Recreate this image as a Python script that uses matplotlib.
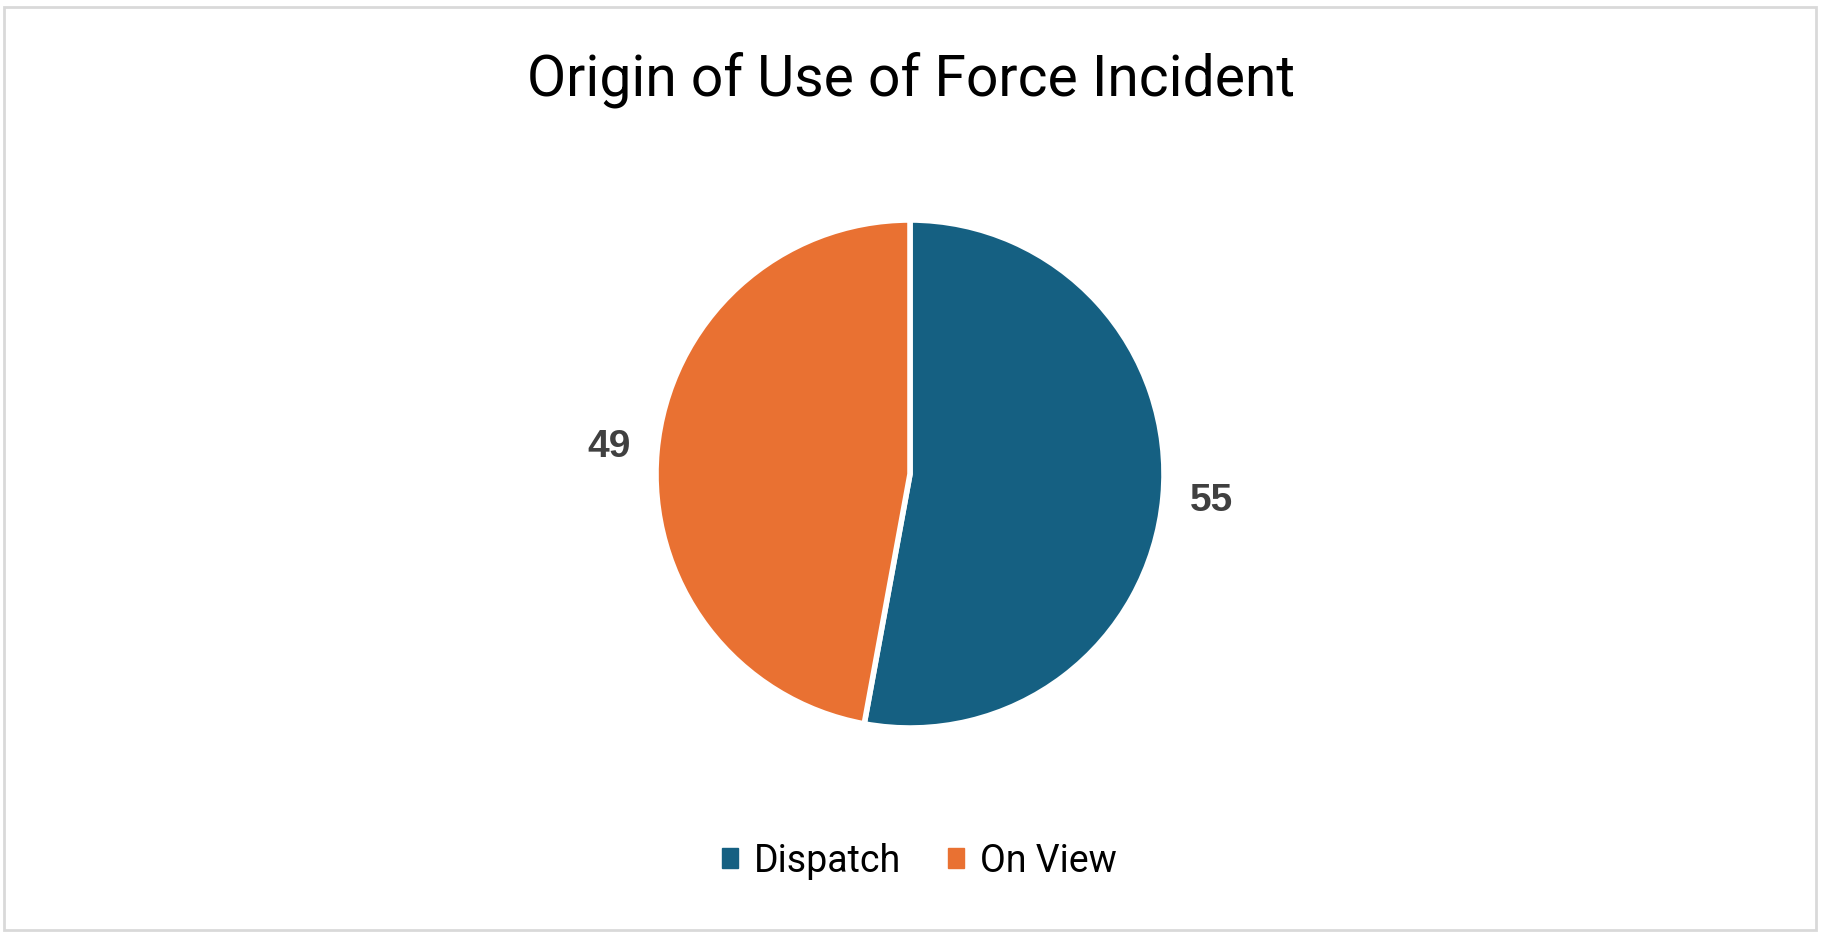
import matplotlib
matplotlib.use("Agg")
import matplotlib.pyplot as plt
from matplotlib.patches import Rectangle, Patch

# ---- data ----
categories = ["Dispatch", "On View"]
values = [55, 49]
colors = ["#156082", "#E97132"]
title = "Origin of Use of Force Incident"

W, H, DPI = 1824, 935, 100
fig = plt.figure(figsize=(W / DPI, H / DPI), dpi=DPI)
fig.patch.set_facecolor("white")

# outer border
fig.patches.append(Rectangle((4 / W, 5 / H), (1816 - 4) / W, (928 - 5) / H,
                             transform=fig.transFigure, fill=False,
                             edgecolor="#D9D9D9", linewidth=2.0, zorder=0))

# pie axes: center (910, 474) px, radius ~254 px
cx, cy, r = 910, 474, 254
ax = fig.add_axes([(cx - r) / W, (H - cy - r) / H, 2 * r / W, 2 * r / H])
total = sum(values)
wedges, _, autotexts = ax.pie(
    values, colors=colors, startangle=90, counterclock=False, radius=1.0,
    wedgeprops=dict(edgecolor="white", linewidth=4),
    autopct=lambda p: f"{round(p * total / 100)}", pctdistance=1.19,
    textprops=dict(fontsize=28, fontweight="bold", color="#404040",
                   family=["Liberation Sans", "DejaVu Sans"]))
ax.set_xlim(-1, 1)
ax.set_ylim(-1, 1)
ax.set_aspect("equal")
ax.axis("off")

# title
fig.text(911 / W, 1 - 95 / H, title, ha="center", va="baseline",
         fontsize=41, family=["Roboto", "DejaVu Sans"], color="black")

# legend
handles = [Patch(facecolor=c, edgecolor=c) for c in colors]
fig.legend(handles, categories, loc="center", bbox_to_anchor=(919 / W, 1 - 861 / H),
           ncol=2, frameon=False,
           prop=dict(family=["Roboto", "DejaVu Sans"], size=27),
           handlelength=0.43, handleheight=0.43, handletextpad=0.42,
           columnspacing=1.25, borderpad=0)

fig.savefig("out.png", dpi=DPI)
